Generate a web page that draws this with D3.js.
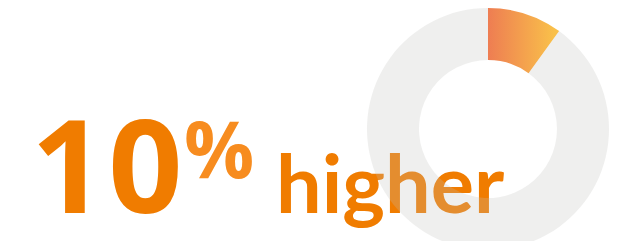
<!DOCTYPE html>
<html>
<head>
<meta charset="utf-8">
<script src="https://cdn.jsdelivr.net/npm/d3@7"></script>
<style>
  html, body { margin: 0; padding: 0; background: #fff; }
  svg { display: block; }
</style>
</head>
<body>
<div id="chart"></div>
<script>
// share shown in the donut
const categories = ['higher', 'rest']
const shares = [10, 90]
const bigNumber = '10'
const unit = '%'
const caption = 'higher'

const width = 627, height = 241

const svg = d3.select('#chart').append('svg')
  .attr('width', width)
  .attr('height', height)

// gradient is in the donut group's coords (centre at 0,0)
const defs = svg.append('defs')
const grad = defs.append('linearGradient')
  .attr('id', 'sliceGrad')
  .attr('gradientUnits', 'userSpaceOnUse')
  .attr('x1', 0).attr('x2', 66).attr('y1', 0).attr('y2', 0)
grad.append('stop').attr('offset', '0%').attr('stop-color', '#ee7d52')
grad.append('stop').attr('offset', '100%').attr('stop-color', '#f9c04a')

// text first, donut is painted over it (ring is translucent)
const txt = svg.append('g')
  .style('font-weight', 700)

txt.append('text')
  .attr('x', 31).attr('y', 213)
  .style('font-family', "'Open Sans', sans-serif")
  .style('font-size', '130px')
  .style('letter-spacing', '3px')
  .attr('fill', '#f07c00')
  .text(bigNumber)

txt.append('text')
  .attr('x', 184).attr('y', 178)
  .style('font-family', "'Open Sans', sans-serif")
  .style('font-size', '78px')
  .attr('fill', '#f78c1f')
  .text(unit)

txt.append('text')
  .attr('x', 276).attr('y', 213)
  .style('font-family', "Lato, sans-serif")
  .style('font-size', '81px')
  .attr('fill', '#f07c00')
  .text(caption)

const pie = d3.pie().sort(null).value(d => d)
const arc = d3.arc().innerRadius(69).outerRadius(121)

const donut = svg.append('g')
  .attr('transform', 'translate(488,129)')

donut.selectAll('path')
  .data(pie(shares))
  .enter().append('path')
    .attr('d', arc)
    .attr('fill', (d, i) => i === 0 ? 'url(#sliceGrad)' : '#bfbfbb')
    .attr('fill-opacity', (d, i) => i === 0 ? 1 : 0.25)
</script>
</body>
</html>
